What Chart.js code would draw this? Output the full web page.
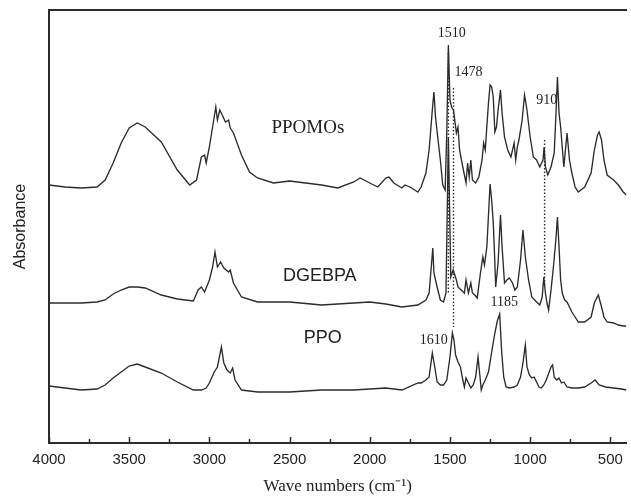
<!DOCTYPE html>
<html>
<head>
<meta charset="utf-8">
<title>FTIR spectra</title>
<script src="https://cdn.jsdelivr.net/npm/chart.js@4.4.1/dist/chart.umd.min.js"></script>
<style>
  html, body { margin: 0; padding: 0; background: #fff; }
  #wrap { width: 631px; height: 497px; }
</style>
</head>
<body>
<div id="wrap"><canvas id="ftir" width="631" height="497"></canvas></div>
<script>
// ---- Spectra (wavenumber cm-1 / absorbance, a.u.) ----
const ppomosWn = [4000, 3900, 3800, 3700, 3650, 3600, 3550, 3500, 3450, 3400, 3300, 3200, 3123, 3080, 3050, 3030, 3020, 3000, 2980, 2960, 2950, 2935, 2920, 2900, 2880, 2870, 2850, 2800, 2750, 2700, 2600, 2500, 2400, 2300, 2200, 2100, 2060, 2000, 1950, 1900, 1880, 1850, 1800, 1780, 1750, 1720, 1700, 1680, 1650, 1630, 1610, 1600, 1590, 1580, 1560, 1545, 1530, 1520, 1510, 1500, 1490, 1478, 1460, 1450, 1440, 1420, 1400, 1390, 1380, 1370, 1360, 1340, 1320, 1300, 1290, 1280, 1260, 1250, 1240, 1230, 1220, 1210, 1200, 1185, 1175, 1160, 1140, 1120, 1100, 1090, 1080, 1070, 1050, 1035, 1020, 1000, 980, 960, 940, 920, 913, 905, 890, 870, 850, 838, 830, 820, 810, 800, 790, 770, 755, 740, 720, 700, 660, 620, 600, 580, 570, 555, 540, 520, 480, 450, 420, 400];
const ppomosAbs = [2.58, 2.56, 2.55, 2.56, 2.63, 2.80, 3.00, 3.15, 3.20, 3.16, 3.01, 2.73, 2.58, 2.63, 2.86, 2.88, 2.80, 2.96, 3.16, 3.36, 3.23, 3.33, 3.28, 3.21, 3.23, 3.15, 3.10, 2.88, 2.71, 2.65, 2.60, 2.62, 2.60, 2.58, 2.55, 2.61, 2.65, 2.60, 2.56, 2.65, 2.66, 2.60, 2.55, 2.58, 2.56, 2.53, 2.51, 2.56, 2.70, 2.93, 3.33, 3.51, 3.26, 3.11, 2.83, 2.58, 2.53, 3.10, 3.98, 3.43, 3.36, 3.33, 3.10, 3.16, 2.93, 2.76, 2.60, 2.80, 2.66, 2.83, 2.63, 2.60, 2.66, 2.83, 3.00, 2.93, 3.40, 3.58, 3.56, 3.46, 3.11, 3.16, 3.33, 3.53, 3.30, 3.06, 2.93, 2.86, 3.00, 2.83, 2.96, 3.03, 3.23, 3.48, 3.33, 3.06, 2.86, 2.83, 2.76, 2.83, 2.96, 2.76, 2.68, 2.76, 2.90, 3.33, 3.66, 3.30, 3.16, 2.96, 2.76, 3.10, 2.83, 2.70, 2.56, 2.51, 2.56, 2.70, 2.93, 3.08, 3.11, 3.03, 2.83, 2.68, 2.63, 2.58, 2.51, 2.48];

const dgebpaWn = [4000, 3800, 3700, 3650, 3600, 3550, 3500, 3450, 3400, 3300, 3200, 3100, 3070, 3050, 3030, 3000, 2980, 2965, 2950, 2930, 2910, 2880, 2870, 2850, 2800, 2700, 2500, 2300, 2100, 2000, 1900, 1800, 1700, 1650, 1630, 1607, 1600, 1580, 1560, 1540, 1525, 1510, 1495, 1480, 1460, 1450, 1430, 1410, 1400, 1385, 1370, 1360, 1345, 1330, 1310, 1295, 1285, 1270, 1250, 1240, 1230, 1220, 1215, 1200, 1185, 1175, 1160, 1145, 1130, 1110, 1095, 1080, 1060, 1045, 1030, 1010, 990, 960, 940, 925, 915, 905, 895, 885, 870, 855, 840, 830, 820, 810, 800, 785, 770, 755, 740, 720, 700, 660, 620, 600, 575, 555, 540, 520, 480, 450, 420, 400];
const dgebpaAbs = [1.40, 1.40, 1.41, 1.43, 1.49, 1.53, 1.56, 1.56, 1.55, 1.48, 1.44, 1.42, 1.53, 1.56, 1.51, 1.63, 1.76, 1.91, 1.76, 1.81, 1.75, 1.71, 1.73, 1.60, 1.46, 1.41, 1.41, 1.38, 1.40, 1.41, 1.39, 1.36, 1.38, 1.43, 1.50, 1.95, 1.70, 1.56, 1.43, 1.41, 1.50, 3.05, 1.66, 1.73, 1.63, 1.56, 1.53, 1.50, 1.63, 1.50, 1.60, 1.50, 1.48, 1.45, 1.70, 1.86, 1.78, 1.96, 2.59, 2.43, 2.20, 1.80, 1.56, 1.80, 2.28, 1.96, 1.60, 1.63, 1.65, 1.60, 1.53, 1.56, 1.83, 2.13, 1.86, 1.63, 1.46, 1.41, 1.38, 1.46, 1.66, 1.50, 1.40, 1.33, 1.53, 1.76, 2.03, 2.26, 1.96, 1.63, 1.50, 1.43, 1.41, 1.36, 1.31, 1.26, 1.21, 1.21, 1.26, 1.40, 1.48, 1.36, 1.26, 1.21, 1.20, 1.18, 1.17, 1.17];

const ppoWn = [4000, 3900, 3800, 3700, 3650, 3600, 3550, 3500, 3450, 3400, 3300, 3200, 3100, 3050, 3020, 3000, 2970, 2950, 2925, 2910, 2890, 2870, 2855, 2840, 2800, 2700, 2500, 2300, 2100, 1900, 1800, 1700, 1680, 1650, 1630, 1610, 1595, 1580, 1560, 1540, 1520, 1500, 1485, 1475, 1465, 1450, 1435, 1420, 1410, 1400, 1385, 1370, 1355, 1340, 1325, 1315, 1305, 1295, 1280, 1260, 1240, 1220, 1205, 1190, 1178, 1165, 1150, 1130, 1100, 1080, 1060, 1045, 1030, 1020, 1005, 990, 975, 960, 945, 930, 915, 900, 870, 860, 850, 835, 820, 805, 790, 770, 740, 700, 660, 620, 595, 570, 530, 480, 430, 400];
const ppoAbs = [0.57, 0.55, 0.53, 0.54, 0.58, 0.65, 0.71, 0.77, 0.79, 0.76, 0.70, 0.61, 0.53, 0.53, 0.55, 0.60, 0.71, 0.76, 0.96, 0.80, 0.73, 0.70, 0.75, 0.63, 0.53, 0.51, 0.51, 0.53, 0.53, 0.55, 0.53, 0.60, 0.60, 0.63, 0.66, 0.90, 0.76, 0.61, 0.58, 0.58, 0.63, 0.86, 1.10, 1.03, 0.88, 0.81, 0.76, 0.63, 0.56, 0.65, 0.60, 0.55, 0.58, 0.66, 0.86, 0.70, 0.53, 0.58, 0.63, 0.71, 0.91, 1.10, 1.22, 1.29, 0.92, 0.66, 0.56, 0.55, 0.56, 0.58, 0.66, 0.80, 0.98, 0.76, 0.68, 0.65, 0.66, 0.61, 0.56, 0.55, 0.58, 0.63, 0.76, 0.78, 0.66, 0.63, 0.65, 0.60, 0.61, 0.56, 0.55, 0.55, 0.56, 0.60, 0.63, 0.58, 0.56, 0.55, 0.54, 0.53];

// dotted guide lines: band position and the span they cover
const guideWn = [1510, 1478, 910];
const guideTop = [3.90, 3.55, 3.03];
const guideBottom = [1.50, 1.16, 1.58];

// axis ticks
const majorTicks = [4000, 3500, 3000, 2500, 2000, 1500, 1000, 500];
const minorTicks = [3750, 3250, 2750, 2250, 1750, 1250, 750];

// ---- Helpers ---------------------------------------------------------------
const INK = "#2b2b2b";
const toPoints = (xs, ys) => xs.map((x, i) => ({ x: x, y: ys[i] }));

const traceSet = (label, xs, ys) => ({
    label: label,
    data: toPoints(xs, ys),
    borderColor: INK,
    borderWidth: 1.35,
    pointRadius: 0,
    tension: 0,
    fill: false,
});

const guideSets = guideWn.map((w, i) => ({
    label: "guide " + w,
    data: [{ x: w, y: guideTop[i] }, { x: w, y: guideBottom[i] }],
    borderColor: INK,
    borderWidth: 1.4,
    borderDash: [1.5, 2],
    pointRadius: 0,
    fill: false,
}));

// Text placed on the plot, anchored in data coordinates
const notes = [
    { text: "PPOMOs", x: 2386, y: 3.15, font: "19px 'Liberation Serif'" },
    { text: "DGEBPA", x: 2312, y: 1.67, font: "18px 'Liberation Sans'" },
    { text: "PPO", x: 2293, y: 1.05, font: "18px 'Liberation Sans'" },
    { text: "1510", x: 1489, y: 4.10, font: "14px 'Liberation Serif'" },
    { text: "1478", x: 1384, y: 3.71, font: "14px 'Liberation Serif'" },
    { text: "910", x: 896, y: 3.43, font: "14px 'Liberation Serif'" },
    { text: "1185", x: 1161, y: 1.41, font: "14px 'Liberation Serif'" },
    { text: "1610", x: 1601, y: 1.03, font: "14px 'Liberation Serif'" },
];

const notesPlugin = {
    id: "notes",
    afterDatasetsDraw(chart) {
        const { ctx, scales } = chart;
        ctx.save();
        ctx.fillStyle = "#222";
        ctx.textAlign = "center";
        ctx.textBaseline = "middle";
        notes.forEach((n) => {
            ctx.font = n.font;
            ctx.fillText(n.text, scales.x.getPixelForValue(n.x), scales.y.getPixelForValue(n.y));
        });
        ctx.restore();
    },
};

// inward tick marks on the bottom axis
const innerTicks = {
    id: "innerTicks",
    afterDraw(chart) {
        const { ctx, scales, chartArea } = chart;
        const b = chartArea.bottom;
        ctx.save();
        ctx.strokeStyle = INK;
        ctx.lineWidth = 1.5;
        const mark = (v, len) => {
            const px = Math.round(scales.x.getPixelForValue(v)) + 0.5;
            ctx.beginPath();
            ctx.moveTo(px, b);
            ctx.lineTo(px, b - len);
            ctx.stroke();
        };
        majorTicks.forEach((v) => mark(v, 6));
        minorTicks.forEach((v) => mark(v, 4));
        ctx.restore();
    },
};

// ---- Chart -------------------------------------------------------------------
new Chart(document.getElementById("ftir"), {
    type: "line",
    data: {
        datasets: [
            traceSet("PPOMOs", ppomosWn, ppomosAbs),
            traceSet("DGEBPA", dgebpaWn, dgebpaAbs),
            traceSet("PPO", ppoWn, ppoAbs),
            ...guideSets,
        ],
    },
    options: {
        responsive: false,
        animation: false,
        devicePixelRatio: 1,
        layout: { padding: { top: 10, left: 0, right: 0, bottom: 0 } },
        plugins: {
            legend: { display: false },
            tooltip: { enabled: false },
        },
        scales: {
            x: {
                type: "linear",
                position: "bottom",
                reverse: true,
                min: 400,
                max: 4000,
                afterBuildTicks: (s) => { s.ticks = majorTicks.map((v) => ({ value: v })); },
                afterFit: (s) => { s.height = 54; },
                ticks: {
                    autoSkip: false,
                    maxRotation: 0,
                    padding: 8,
                    color: "#222",
                    font: { family: "'Liberation Sans'", size: 15 },
                    callback: (v) => String(v),
                },
                grid: { display: false, drawTicks: false },
                border: { display: true, color: INK, width: 2 },
                title: {
                    display: true,
                    text: "Wave numbers (cm\u207B\u00B9)",
                    color: "#222",
                    font: { family: "'Liberation Serif'", size: 17 },
                    padding: { top: 1, bottom: 0 },
                },
            },
            xTop: {
                type: "linear",
                position: "top",
                display: true,
                ticks: { display: false },
                grid: { display: false, drawTicks: false },
                border: { display: true, color: INK, width: 2 },
                afterFit: (s) => { s.height = 0; },
            },
            y: {
                type: "linear",
                min: 0,
                max: 4.33,
                ticks: { display: false },
                grid: { display: false, drawTicks: false },
                border: { display: true, color: INK, width: 2 },
                afterFit: (s) => { s.width = 49; },
                title: {
                    display: true,
                    text: "Absorbance",
                    color: "#222",
                    font: { family: "'Liberation Sans'", size: 16 },
                    padding: { top: 11, bottom: 0 },
                },
            },
        },
    },
    plugins: [notesPlugin, innerTicks],
});
</script>
</body>
</html>
